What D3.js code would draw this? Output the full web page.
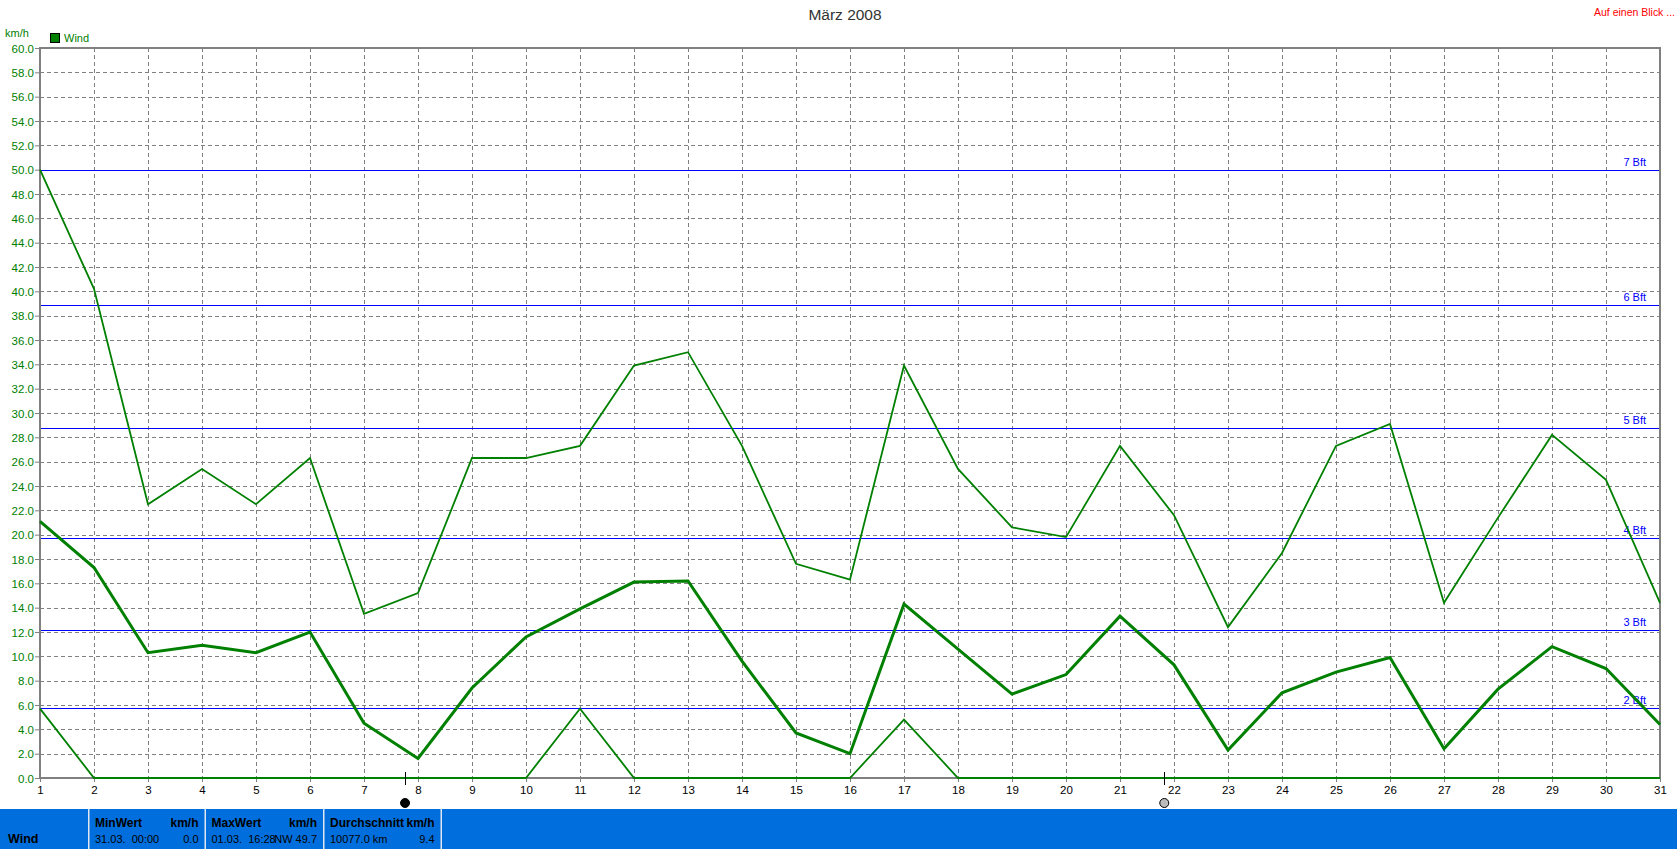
<!DOCTYPE html>
<html><head><meta charset="utf-8">
<style>
html,body{margin:0;padding:0;background:#fff;overflow:hidden}
svg{display:block}
text{font-family:"Liberation Sans",sans-serif;font-size:11px}
</style>
<script src="https://cdn.jsdelivr.net/npm/d3@7"></script>
</head><body><svg id="c" width="1677" height="849"></svg>
<script>
const days = d3.range(1,32);
const maxWind = [50,40.2,22.5,25.4,22.5,26.3,13.5,15.2,26.3,26.3,27.3,33.9,35,27.3,17.6,16.3,33.9,25.4,20.6,19.8,27.3,21.6,12.4,18.5,27.3,29.1,14.4,21.4,28.2,24.5,14.4];
const avgWind = [21.1,17.3,10.3,10.9,10.3,12,4.5,1.6,7.4,11.6,13.9,16.1,16.2,9.6,3.7,2,14.3,10.6,6.9,8.5,13.3,9.3,2.3,7,8.7,9.9,2.4,7.3,10.8,9,4.4];
const minWind = [5.7,0,0,0,0,0,0,0,0,0,5.7,0,0,0,0,0,4.8,0,0,0,0,0,0,0,0,0,0,0,0,0,0];
const bftValues = [50,38.9,28.8,19.7,12.2,5.75];
const bftLabels = ["7 Bft","6 Bft","5 Bft","4 Bft","3 Bft","2 Bft"];
const moonDays = [7.76,21.82];
const moonFills = ["#000","#bbb"];
const yTicks = d3.range(0,61,2);
const panelHead = ["MinWert","MaxWert","Durchschnitt"];
const panelUnit = ["km/h","km/h","km/h"];
const panelLeft = ["31.03.  00:00","01.03.  16:28","10077.0 km"];
const panelRight = ["0.0","NW 49.7","9.4"];

const W=1677,H=849,L=40,R=1660,T=48,B=778;
const svg=d3.select("#c");
const x=d3.scaleLinear().domain([1,31]).range([L,R]);
const y=d3.scaleLinear().domain([0,60]).range([B,T]);
const green="#008000",gray="#808080";
const px=v=>Math.round(v)+.5;

// grid
const gx=svg.append("g").attr("shape-rendering","crispEdges");
gx.selectAll("line.v").data(days).join("line").attr("class","v").attr("x1",d=>px(x(d))).attr("x2",d=>px(x(d))).attr("y1",T).attr("y2",B)
  .attr("stroke",gray).attr("stroke-dasharray","4 3");
gx.selectAll("line.h").data(yTicks).join("line").attr("class","h").attr("x1",L).attr("x2",R).attr("y1",d=>px(y(d))).attr("y2",d=>px(y(d)))
  .attr("stroke",gray).attr("stroke-dasharray","4 3");

// axes
const yAxis=d3.axisLeft(y).tickValues(yTicks).tickFormat(d3.format(".1f")).tickSize(5).tickPadding(1);
const ya=svg.append("g").attr("transform",`translate(${L},0)`).call(yAxis);
ya.select(".domain").remove();
ya.selectAll("line").attr("stroke",gray);
ya.selectAll("text").attr("fill",green).style("font-size","11.5px").attr("dy","0.36em");
const xAxis=d3.axisBottom(x).tickValues(days).tickFormat(d3.format("d")).tickSize(4).tickPadding(4);
const xa=svg.append("g").attr("transform",`translate(0,${B})`).call(xAxis);
xa.select(".domain").remove();
xa.selectAll("line").attr("stroke",gray);
xa.selectAll("text").attr("fill","#000").style("font-size","11.5px");

// Beaufort
const bg=svg.append("g");
bg.selectAll("line").data(bftValues).join("line").attr("x1",L).attr("x2",R).attr("y1",d=>px(y(d))).attr("y2",d=>px(y(d)))
  .attr("stroke","#0000ff").attr("stroke-width",1);
bg.selectAll("text").data(bftValues).join("text").attr("x",R-14).attr("y",d=>y(d)-4).attr("text-anchor","end")
  .attr("fill","#0000ff").text((d,i)=>bftLabels[i]);

// frame
svg.append("rect").attr("x",L).attr("y",T).attr("width",R-L).attr("height",B-T).attr("fill","none").attr("stroke",gray).attr("stroke-width",2);

// series
const line=d3.line().x((d,i)=>x(days[i])).y(d=>y(d));
[[maxWind,1.8],[minWind,1.8],[avgWind,3]].forEach(([s,w])=>{
  svg.append("path").attr("d",line(s)).attr("fill","none").attr("stroke",green).attr("stroke-width",w).attr("stroke-linejoin","miter");
});

// moon
const mg=svg.append("g");
mg.selectAll("line").data(moonDays).join("line").attr("x1",d=>px(x(d))).attr("x2",d=>px(x(d))).attr("y1",772).attr("y2",785).attr("stroke","#000").attr("shape-rendering","crispEdges");
mg.selectAll("circle").data(moonDays).join("circle").attr("cx",d=>x(d)).attr("cy",803).attr("r",4.5)
  .attr("fill",(d,i)=>moonFills[i]).attr("stroke","#000");

// header
svg.append("text").attr("x",845).attr("y",20).attr("text-anchor","middle").style("font-size","15.5px").attr("fill","#333").text("März 2008");
svg.append("text").attr("x",1594).attr("y",16).attr("fill","#ff0000").style("font-size","10.5px").attr("textLength",81).text("Auf einen Blick ...");
svg.append("text").attr("x",5).attr("y",37).attr("fill",green).text("km/h");
svg.append("rect").attr("x",50.5).attr("y",33.5).attr("width",9).attr("height",9).attr("fill",green).attr("stroke","#000");
svg.append("text").attr("x",64).attr("y",42).attr("fill",green).text("Wind");

// bottom panel
const blue="#006fdd";
svg.append("rect").attr("x",0).attr("y",809).attr("width",W).attr("height",40).attr("fill",blue);
const seps=[88,204.5,323,440.5];
svg.selectAll("rect.s").data(seps).join("rect").attr("class","s").attr("x",d=>d).attr("y",809).attr("width",1.5).attr("height",40).attr("fill","#dfe8f2");
svg.append("text").attr("x",8).attr("y",843).style("font-weight","bold").style("font-size","12.5px").text("Wind");
panelHead.forEach((h,i)=>{
  const a=seps[i]+7,b=seps[i+1]-6;
  svg.append("text").attr("x",a).attr("y",827).style("font-weight","bold").style("font-size","12px").text(h);
  svg.append("text").attr("x",b).attr("y",827).attr("text-anchor","end").style("font-weight","bold").style("font-size","12px").text(panelUnit[i]);
  svg.append("text").attr("x",a).attr("y",843).style("white-space","pre").text(panelLeft[i]);
  svg.append("text").attr("x",b).attr("y",843).attr("text-anchor","end").text(panelRight[i]);
});
</script></body></html>
